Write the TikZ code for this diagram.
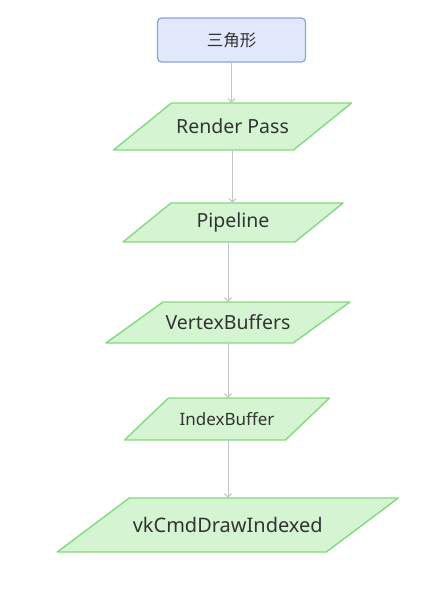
\documentclass[tikz,border=0pt]{standalone}
\usepackage{fontspec}
\setmainfont{Noto Sans}
\newfontfamily\cjk{Noto Sans CJK SC}
\usetikzlibrary{arrows.meta}
\definecolor{pfill}{HTML}{D5F5D2}
\definecolor{pline}{HTML}{84D980}
\definecolor{bfill}{HTML}{E2E8FB}
\definecolor{bline}{HTML}{8EA2DA}
\definecolor{arrc}{HTML}{C4C4C4}
\definecolor{txt}{HTML}{333333}
\tikzset{
  para/.style={fill=pfill, draw=pline, line width=1.4pt, line join=round},
  lbl/.style={inner sep=0pt, text=txt},
  topbox/.style={fill=bfill, draw=bline, line width=1.2pt, rounded corners=4pt, inner sep=0pt, text=txt},
  arr/.style={draw=arrc, line width=1pt, -{Straight Barb[length=3.5pt,width=7pt]}}
}
% name, cx, ytop, ybot, width, slant, fontsize, text
\newcommand\parabox[8]{%
  \filldraw[para] ({#2-#5/2+#6/2},#3) -- ({#2+#5/2+#6/2},#3) -- ({#2+#5/2-#6/2},#4) -- ({#2-#5/2-#6/2},#4) -- cycle;
  \node[lbl, minimum width=#5, minimum height={#4-#3}, font=\fontsize{#7}{#7}\selectfont] (#1) at (#2,{(#3+#4)/2}) {#8};
}
\begin{document}
\begin{tikzpicture}[x=1pt,y=-1pt]
  \useasboundingbox (0,0) rectangle (426,603);
  \node[topbox, minimum width=148, minimum height=44, font=\cjk\fontsize{16.5}{16.5}\selectfont] (top) at (231.5,40) {三角形};
  \parabox{rp}{232.5}{103}{150}{180}{58}{19.5}{Render Pass}
  \parabox{pl}{233}{203}{242}{172}{48}{19.5}{Pipeline}
  \parabox{vb}{228}{302}{343}{187}{57}{19.5}{VertexBuffers}
  \parabox{ib}{227}{398}{440}{161}{44}{17}{IndexBuffer}
  \parabox{vk}{227.75}{498}{552}{269}{72}{20}{vkCmdDrawIndexed}
  \draw[arr] (top.south) -- (top.south |- rp.north);
  \draw[arr] (rp.south) -- (rp.south |- pl.north);
  \draw[arr] ([xshift=-5pt]pl.south) -- ([xshift=-5pt]pl.south |- vb.north);
  \draw[arr] (vb.south) -- (vb.south |- ib.north);
  \draw[arr] ([xshift=1pt]ib.south) -- ([xshift=1pt]ib.south |- vk.north);
\end{tikzpicture}
\end{document}
